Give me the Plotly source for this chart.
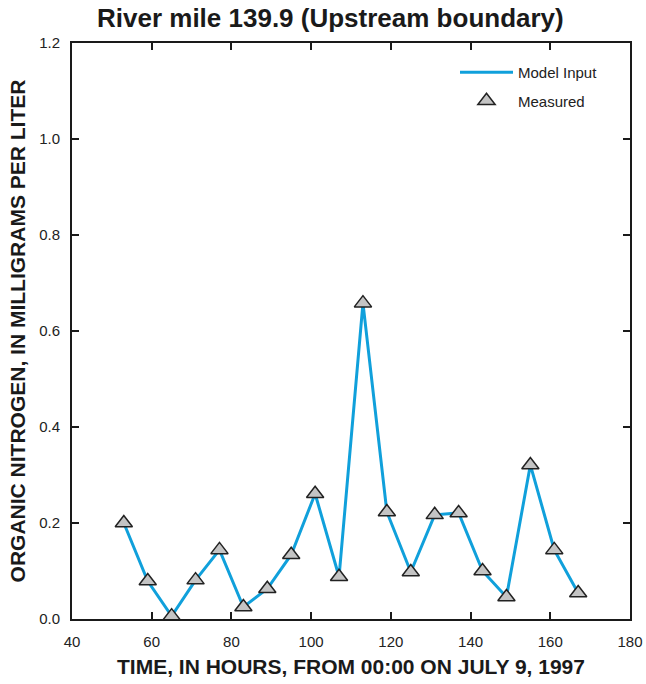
import plotly.graph_objects as go

hours = [53, 59, 65, 71, 77, 83, 89, 95, 101, 107, 113, 119, 125, 131, 137, 143, 149, 155, 161, 167]
organic_n = [0.200, 0.079, 0.006, 0.081, 0.144, 0.025, 0.063, 0.134, 0.261, 0.088,
             0.658, 0.223, 0.098, 0.217, 0.221, 0.100, 0.046, 0.321, 0.144, 0.054]

x_ticks = [40, 60, 80, 100, 120, 140, 160, 180]
y_ticks = [0.0, 0.2, 0.4, 0.6, 0.8, 1.0, 1.2]

FONT = "Liberation Sans, Arial, Helvetica, sans-serif"

fig = go.Figure()
fig.add_trace(go.Scatter(
    x=hours, y=organic_n, mode="lines", name="Model Input", legendgroup="a",
    line=dict(color="#10a0db", width=3),
))
fig.add_trace(go.Scatter(
    x=hours, y=organic_n, mode="markers", name="Measured", legendgroup="b",
    marker=dict(symbol="triangle-up", size=15, color="#c4c4c4",
                line=dict(color="#222222", width=1.5)),
))

axis_common = dict(
    showline=True, linecolor="#1a1a1a", linewidth=2, mirror="ticks",
    ticks="inside", ticklen=7, tickwidth=2, tickcolor="#1a1a1a",
    showgrid=False, zeroline=False,
    tickfont=dict(family=FONT, size=15, color="#222222"),
)

W, H = 646, 684
L, T = 72, 43
PR, PB = 630, 619  # plot right / bottom edges in pixels

fig.update_layout(
    width=W, height=H,
    margin=dict(l=L, r=W - PR, t=T, b=H - PB, autoexpand=False),
    paper_bgcolor="white", plot_bgcolor="white",
    title=dict(text="<b>River mile 139.9 (Upstream boundary)</b>",
               x=97 / W, xanchor="left", y=1 - 18 / H, yanchor="middle",
               font=dict(family=FONT, size=26, color="#1a1a1a")),
    xaxis=dict(range=[40, 180], tickvals=x_ticks,
               ticktext=[str(v) for v in x_ticks], ticklabelstandoff=8,
               title=dict(text="<b>TIME, IN HOURS, FROM 00:00 ON JULY 9, 1997</b>",
                          font=dict(family=FONT, size=21, color="#1a1a1a"), standoff=10),
               **axis_common),
    yaxis=dict(range=[0, 1.2], tickvals=y_ticks,
               ticktext=[f"{v:.1f}" for v in y_ticks], ticklabelstandoff=7,
               title=dict(text="<b>ORGANIC NITROGEN, IN MILLIGRAMS PER LITER</b>",
                          font=dict(family=FONT, size=21, color="#1a1a1a"), standoff=8),
               **axis_common),
    legend=dict(x=(455 - L) / (PR - L), y=1 - (56 - T) / (PB - T),
                xanchor="left", yanchor="top",
                bgcolor="rgba(0,0,0,0)", borderwidth=0,
                font=dict(family=FONT, size=15, color="#222222"),
                itemwidth=53, tracegroupgap=6, traceorder="grouped"),
    showlegend=True,
)

fig.write_html("out.html",
               config={"displayModeBar": False},
               post_script="document.body.style.margin='0';"
                           "document.documentElement.style.overflow='hidden';")
